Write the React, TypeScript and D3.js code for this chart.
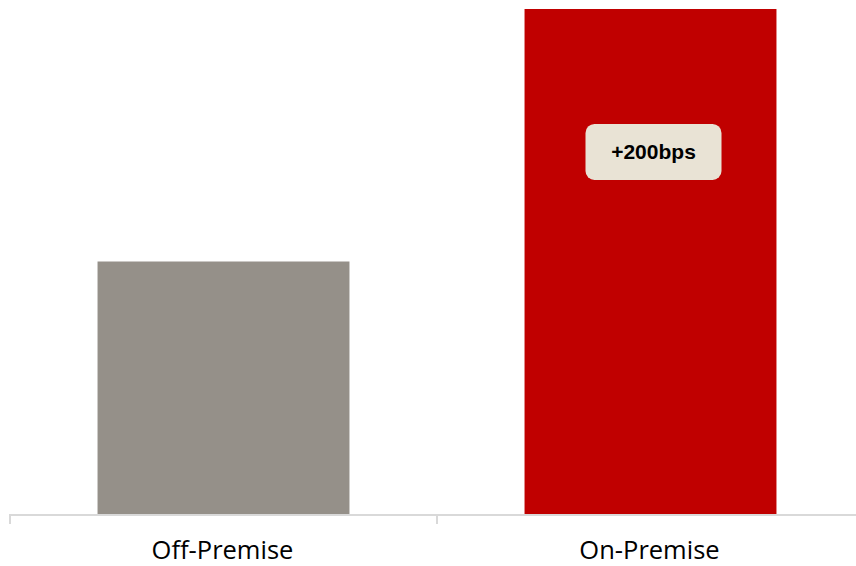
import React from "react";
import * as d3 from "d3";

const categories = ["Off-Premise", "On-Premise"];
const values = [2.0, 4.0]; // growth, %
const barColors = ["#959089", "#c00000"];
const deltaLabel = "+200bps";

const W = 856;
const H = 566;

export default function App() {
  const x = d3.scaleBand<string>().domain(categories).range([10, 864]).paddingInner(0.41).paddingOuter(0.205);
  const y = d3.scaleLinear().domain([0, 4]).range([514, 9]);
  const baseY = y(0);

  const onX = x(categories[1])! + x.bandwidth() / 2 + 3;
  const boxW = 136;
  const boxH = 56;
  const boxY = y(3.09);

  const tickXs = [10, 10 + x.step(), 10 + 2 * x.step()];

  return (
    <div style={{ position: "fixed", left: 0, top: 0, width: W, height: H, background: "#fff" }}>
      <svg width={W} height={H} style={{ display: "block" }}>
        {categories.map((c, i) => (
          <rect
            key={c}
            x={x(c)}
            y={y(values[i])}
            width={x.bandwidth()}
            height={baseY - y(values[i])}
            fill={barColors[i]}
          />
        ))}
        <line x1={10} x2={864} y1={baseY + 1} y2={baseY + 1} stroke="#d9d9d9" strokeWidth={2} />
        {tickXs.map((t) => (
          <line key={t} x1={t} x2={t} y1={baseY} y2={baseY + 10} stroke="#d9d9d9" strokeWidth={2} />
        ))}
        {categories.map((c) => (
          <text
            key={c}
            x={x(c)! + x.bandwidth() / 2 - 1}
            y={559}
            textAnchor="middle"
            fontFamily="'Open Sans', 'Noto Sans', sans-serif"
            fontSize={25.5}
            fill="#000"
          >
            {c}
          </text>
        ))}
        <rect x={onX - boxW / 2} y={boxY} width={boxW} height={boxH} rx={9} fill="#e9e3d5" />
        <text
          x={onX}
          y={boxY + boxH / 2}
          dy="0.35em"
          textAnchor="middle"
          fontFamily="'Liberation Sans', Arial, sans-serif"
          fontWeight="bold"
          fontSize={21}
          fill="#000"
        >
          {deltaLabel}
        </text>
      </svg>
    </div>
  );
}
